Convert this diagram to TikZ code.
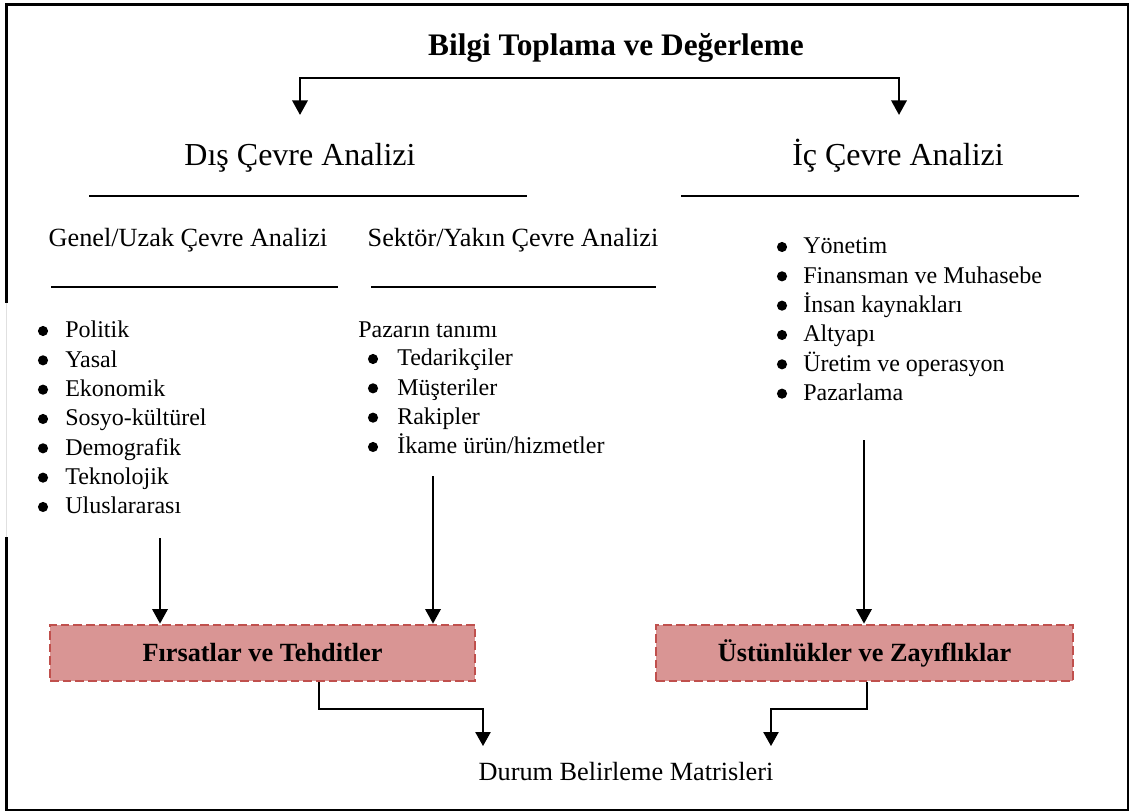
\documentclass[tikz,border=0pt]{standalone}
\usepackage{fontspec}
\setmainfont{Liberation Serif}
\usetikzlibrary{arrows.meta}
\definecolor{boxfill}{HTML}{D99594}
\definecolor{boxline}{HTML}{C0504D}
\tikzset{
  hdrb/.style={inner sep=0pt, anchor=base, font=\bfseries\fontsize{23.5}{28}\selectfont},
  hdr/.style={inner sep=0pt, anchor=base, font=\fontsize{24}{28}\selectfont},
  sub/.style={inner sep=0pt, anchor=base, font=\fontsize{19.7}{24}\selectfont},
  lst/.style={inner sep=0pt, anchor=base west, font=\fontsize{18}{22}\selectfont},
  bulletdot/.style={fill=black},
  hrule/.style={line width=1.5pt},
  arr/.style={line width=1.9pt, -{Triangle[width=11.5pt,length=11pt]}},
  arrthin/.style={line width=1.1pt, -{Triangle[width=11.5pt,length=10.5pt]}},
  swbox/.style={draw=boxline, fill=boxfill, dash pattern=on 6.5pt off 3pt, line width=2pt,
    minimum height=42pt, inner sep=0pt, text height=13pt, text depth=0pt,
    font=\bfseries\fontsize{19.7}{24}\selectfont},
}
\begin{document}
\begin{tikzpicture}[x=0.75pt,y=-0.75pt]
\useasboundingbox (0,0) rectangle (1130,812);
% outer frame
\draw[line width=1.6pt] (6.5,4.5) rectangle (1128,810);
\fill[white] (4,303) rectangle (30,537);
\draw[black!12, line width=0.6pt] (6,303) -- (6,537);

% title and headings
\node[hdrb] (title) at (616,56) {Bilgi Toplama ve Değerleme};
\node[hdr] (dis) at (300,166) {Dış Çevre Analizi};
\node[hdr] (ic) at (898,166) {İç Çevre Analizi};
\node[sub] (genel) at (188,247) {Genel/Uzak Çevre Analizi};
\node[sub] (sektor) at (513,247) {Sektör/Yakın Çevre Analizi};

% rules
\draw[hrule] (89,196) -- (527,196);
\draw[hrule] (681,196) -- (1079,196);
\draw[hrule] (51,287) -- (338,287);
\draw[hrule] (371,287) -- (656,287);

% top split arrows
\coordinate (tl) at (300,78);
\coordinate (tr) at (899,78);
\coordinate (dl) at (300,115);
\coordinate (dr) at (899,115);
\draw[arr] (tr) -- (tl) -- (dl);
\draw[arr] (tl) -- (tr) -- (dr);

% lists
\node[lst] (genlist) at (65,338) {\begin{tabular}[t]{@{}l@{}}
Politik\\
Yasal\\
Ekonomik\\
Sosyo-kültürel\\
Demografik\\
Teknolojik\\
Uluslararası
\end{tabular}};
\foreach \k in {0,...,6} \fill[bulletdot] (43,{331+29.33*\k}) circle[radius=3.8pt];
\node[lst] (pazar) at (358,338) {Pazarın tanımı};
\node[lst] (seklist) at (397,366) {\begin{tabular}[t]{@{}l@{}}
Tedarikçiler\\
Müşteriler\\
Rakipler\\
İkame ürün/hizmetler
\end{tabular}};
\foreach \k in {0,...,3} \fill[bulletdot] (373,{359+29.33*\k}) circle[radius=3.8pt];
\node[lst] (iclist) at (803,254) {\begin{tabular}[t]{@{}l@{}}
Yönetim\\
Finansman ve Muhasebe\\
İnsan kaynakları\\
Altyapı\\
Üretim ve operasyon\\
Pazarlama
\end{tabular}};
\foreach \k in {0,...,5} \fill[bulletdot] (782,{247+29.33*\k}) circle[radius=3.8pt];

% result boxes
\node[swbox, minimum width=318.75pt] (firsat) at (262.5,653) {Fırsatlar ve Tehditler};
\node[swbox, minimum width=312.75pt] (ustun) at (864.5,653) {Üstünlükler ve Zayıflıklar};
\node[sub] (durum) at (626,780) {Durum Belirleme Matrisleri};

% arrows into boxes
\coordinate (g0) at (160,538);
\coordinate (s0) at (433,476);
\coordinate (i0) at (864,440);
\draw[arr] (g0) -- (g0 |- firsat.north);
\draw[arr] (s0) -- (s0 |- firsat.north);
\draw[arr] (i0) -- (i0 |- ustun.north);

% arrows to matrices
\coordinate (f1) at (319,709);
\coordinate (f2) at (483,709);
\coordinate (m1) at (483,746);
\draw[arrthin] (f1 |- firsat.south) -- (f1) -- (f2) -- (m1);
\coordinate (u1) at (867,709);
\coordinate (u2) at (771,709);
\coordinate (m2) at (771,746);
\draw[arrthin] (u1 |- ustun.south) -- (u1) -- (u2) -- (m2);
\end{tikzpicture}
\end{document}
